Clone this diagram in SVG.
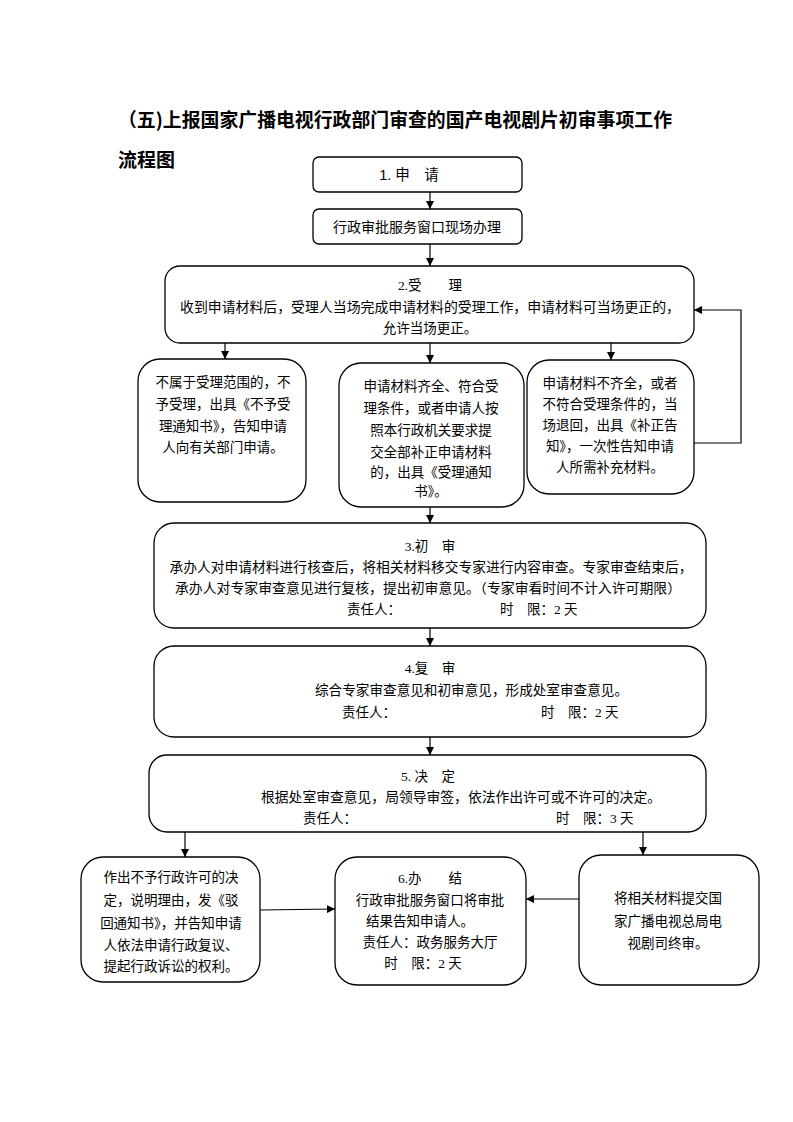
<svg xmlns="http://www.w3.org/2000/svg" width="793" height="1122" viewBox="0 0 793 1122">
<style>
.bx{fill:#fff;stroke:#000;stroke-width:1.3}
.t{font-family:"Liberation Serif","Noto Sans CJK SC",serif;font-size:13.5px;fill:#000;text-anchor:middle;dominant-baseline:central}
.ts{font-family:"Liberation Serif","Noto Sans CJK SC",serif;font-size:13.5px;fill:#000;dominant-baseline:central}
.h{font-family:"Noto Sans CJK SC",sans-serif;font-weight:bold;font-size:19px;fill:#000;dominant-baseline:central}
.c{stroke:#000;stroke-width:1.2;fill:none}
</style>
<defs>
<marker id="ar" viewBox="0 0 10 10" refX="10" refY="5" markerWidth="8" markerHeight="8" markerUnits="userSpaceOnUse" orient="auto">
<path d="M0,0 L10,5 L0,10 z" fill="#000"/>
</marker>
</defs>
<rect width="793" height="1122" fill="#fff"/>
<text class="h" x="118" y="118" textLength="554" lengthAdjust="spacingAndGlyphs">（五)上报国家广播电视行政部门审查的国产电视剧片初审事项工作</text>
<text class="h" x="118" y="158">流程图</text>

<g id="connectors">
<line class="c" x1="430" y1="192" x2="430" y2="209" marker-end="url(#ar)"/>
<line class="c" x1="430" y1="244" x2="430" y2="266" marker-end="url(#ar)"/>
<line class="c" x1="225" y1="343" x2="225" y2="359" marker-end="url(#ar)"/>
<line class="c" x1="430" y1="343" x2="430" y2="363" marker-end="url(#ar)"/>
<line class="c" x1="611" y1="343" x2="611" y2="360" marker-end="url(#ar)"/>
<polyline class="c" points="694,443 741,443 741,310 694,310" marker-end="url(#ar)"/>
<line class="c" x1="430" y1="507" x2="430" y2="523" marker-end="url(#ar)"/>
<line class="c" x1="430" y1="628" x2="430" y2="646" marker-end="url(#ar)"/>
<line class="c" x1="430" y1="737" x2="430" y2="755" marker-end="url(#ar)"/>
<line class="c" x1="185" y1="832" x2="185" y2="857" marker-end="url(#ar)"/>
<line class="c" x1="643" y1="832" x2="643" y2="855" marker-end="url(#ar)"/>
<line class="c" x1="260" y1="910" x2="335" y2="909" marker-end="url(#ar)"/>
<line class="c" x1="579" y1="899" x2="526" y2="899" marker-end="url(#ar)"/>
</g>

<g id="n1">
<rect class="bx" x="313" y="157" width="209" height="35" rx="6"/>
<text class="t" x="409" y="175" style="font-family:'Liberation Sans','Noto Sans CJK SC',sans-serif;font-size:14.5px">1. 申　请</text>
</g>
<g id="n1b">
<rect class="bx" x="313" y="209" width="209" height="35" rx="6"/>
<text class="t" x="417" y="227" style="font-size:14px">行政审批服务窗口现场办理</text>
</g>
<g id="n2">
<rect class="bx" x="165" y="266" width="529" height="77" rx="15"/>
<text class="t" x="430" y="285">2.受　　理</text>
<text class="t" x="430" y="307" textLength="500" lengthAdjust="spacingAndGlyphs">收到申请材料后，受理人当场完成申请材料的受理工作，申请材料可当场更正的，</text>
<text class="t" x="430" y="328">允许当场更正。</text>
</g>
<g id="n2a">
<rect class="bx" x="138" y="359" width="168" height="143" rx="22"/>
<text class="t" x="223" y="382">不属于受理范围的，不</text>
<text class="t" x="223" y="404">予受理，出具《不予受</text>
<text class="t" x="223" y="426">理通知书》，告知申请</text>
<text class="t" x="223" y="447">人向有关部门申请。</text>
</g>
<g id="n2b">
<rect class="bx" x="339" y="363" width="185" height="144" rx="22"/>
<text class="t" x="431" y="386">申请材料齐全、符合受</text>
<text class="t" x="431" y="408">理条件，或者申请人按</text>
<text class="t" x="431" y="430">照本行政机关要求提</text>
<text class="t" x="431" y="452">交全部补正申请材料</text>
<text class="t" x="431" y="472">的，出具《受理通知</text>
<text class="t" x="431" y="491">书》。</text>
</g>
<g id="n2c">
<rect class="bx" x="527" y="360" width="167" height="134" rx="22"/>
<text class="t" x="610" y="383">申请材料不齐全，或者</text>
<text class="t" x="610" y="404">不符合受理条件的，当</text>
<text class="t" x="610" y="425">场退回，出具《补正告</text>
<text class="t" x="610" y="446">知》，一次性告知申请</text>
<text class="t" x="610" y="467">人所需补充材料。</text>
</g>
<g id="n3">
<rect class="bx" x="154" y="523" width="552" height="105" rx="20"/>
<text class="t" x="430" y="546">3.初　审</text>
<text class="t" x="431" y="567" textLength="523" lengthAdjust="spacingAndGlyphs">承办人对申请材料进行核查后，将相关材料移交专家进行内容审查。专家审查结束后，</text>
<text class="t" x="428" y="588" textLength="506" lengthAdjust="spacingAndGlyphs">承办人对专家审查意见进行复核，提出初审意见。（专家审看时间不计入许可期限）</text>
<text class="ts" x="347" y="609">责任人：</text>
<text class="ts" x="500" y="609">时　限：2 天</text>
</g>
<g id="n4">
<rect class="bx" x="154" y="646" width="552" height="91" rx="20"/>
<text class="t" x="430" y="668">4.复　审</text>
<text class="ts" x="315" y="690" textLength="313" lengthAdjust="spacingAndGlyphs">综合专家审查意见和初审意见，形成处室审查意见。</text>
<text class="ts" x="342" y="712">责任人：</text>
<text class="ts" x="541" y="712">时　限：2 天</text>
</g>
<g id="n5">
<rect class="bx" x="149" y="755" width="557" height="77" rx="18"/>
<text class="t" x="428" y="776">5. 决　定</text>
<text class="ts" x="261" y="797" textLength="400" lengthAdjust="spacingAndGlyphs">根据处室审查意见，局领导审签，依法作出许可或不许可的决定。</text>
<text class="ts" x="303" y="818">责任人：</text>
<text class="ts" x="556" y="818">时　限：3 天</text>
</g>
<g id="n6a">
<rect class="bx" x="81" y="857" width="179" height="125" rx="22"/>
<text class="t" x="171" y="877">作出不予行政许可的决</text>
<text class="t" x="171" y="900">定，说明理由，发《驳</text>
<text class="t" x="171" y="923">回通知书》，并告知申请</text>
<text class="t" x="171" y="945">人依法申请行政复议、</text>
<text class="t" x="171" y="966">提起行政诉讼的权利。</text>
</g>
<g id="n6">
<rect class="bx" x="335" y="857" width="191" height="128" rx="22"/>
<text class="t" x="430" y="878">6.办　　结</text>
<text class="t" x="430" y="900">行政审批服务窗口将审批</text>
<text class="t" x="420" y="921">结果告知申请人。</text>
<text class="t" x="430" y="942">责任人：政务服务大厅</text>
<text class="t" x="423" y="963">时　限：2 天</text>
</g>
<g id="n6c">
<rect class="bx" x="579" y="855" width="180" height="130" rx="22"/>
<text class="t" x="668" y="898">将相关材料提交国</text>
<text class="t" x="668" y="921">家广播电视总局电</text>
<text class="t" x="668" y="943">视剧司终审。</text>
</g>
</svg>
